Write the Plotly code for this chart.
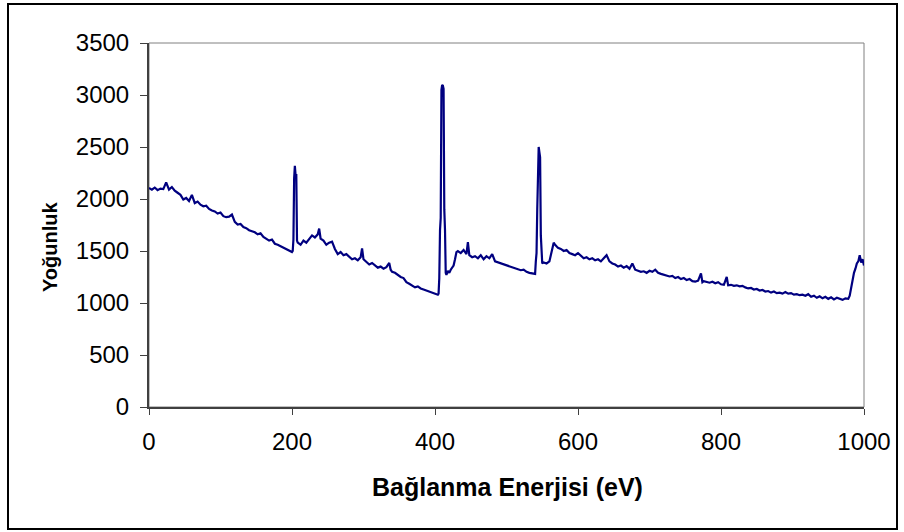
import plotly.graph_objects as go

# Binding energy (eV) and intensity
energy = [
    0, 4, 8, 12, 16, 20, 24, 28, 32, 36, 40, 44, 48, 52, 56, 60, 64, 68, 72, 76,
    80, 84, 88, 92, 96, 100, 104, 108, 112, 116, 120, 124, 128, 132, 136, 140,
    144, 148, 152, 156, 160, 164, 168, 172, 176, 180, 184, 188, 192, 196, 200,
    201, 202, 203, 204, 205, 206, 207, 208,
    212, 216, 220, 224, 228, 232, 236, 238, 240, 244, 248, 252, 256, 260, 264,
    268, 272, 276, 280, 284, 288, 292, 296, 298, 300, 304, 308, 312, 316, 320,
    324, 328, 332, 336, 338, 340, 344, 348, 352, 356, 360, 364, 368, 372, 376,
    380, 384, 388, 392, 396, 400, 404,
    405, 406, 407, 408, 409, 410, 411, 412, 413, 414, 415, 416,
    418, 420, 422, 424, 426, 428, 430, 432, 436, 440, 444, 446, 448, 452, 456,
    460, 464, 468, 472, 476, 480, 484, 488, 492, 496, 500, 504, 508, 512, 516,
    520, 524, 528, 532, 536, 540,
    541, 542, 543, 544, 545, 546, 547, 548, 549, 550,
    552, 556, 560, 562, 564, 566, 568, 572, 576, 580, 584, 588, 592, 596, 600,
    604, 608, 612, 616, 620, 624, 628, 632, 636, 640, 644, 648, 652, 656, 660,
    664, 668, 672, 676, 680, 684, 688, 692, 696, 700, 704, 708, 712, 716, 720,
    724, 728, 732, 736, 740, 744, 748, 752, 756, 760, 764, 768, 772, 774, 776,
    780, 784, 788, 792, 796, 800, 804, 808, 810, 814, 818, 822, 826, 830, 834,
    838, 842, 846, 850, 854, 858, 862, 866, 870, 874, 878, 882, 886, 890, 894,
    898, 902, 906, 910, 914, 918, 922, 926, 930, 934, 938, 942, 946, 950, 954,
    958, 962, 966, 970, 974, 978, 980, 982, 984, 986, 988, 990, 992, 994, 996,
    998, 1000,
]

intensity = [
    2105, 2090, 2110, 2085, 2100, 2095, 2160, 2090, 2115, 2080, 2060, 2040, 1995,
    2010, 1980, 2040, 1960, 1975, 1945, 1930, 1935, 1905, 1890, 1880, 1860, 1870,
    1835, 1825, 1830, 1850, 1780, 1755, 1760, 1730, 1720, 1700, 1690, 1680, 1660,
    1670, 1635, 1620, 1600, 1610, 1570, 1560, 1545, 1530, 1520, 1500, 1490,
    1500, 1610, 2200, 2320, 2230, 2240, 1600, 1580,
    1560, 1600, 1580, 1620, 1650, 1630, 1660, 1715, 1620, 1600, 1560, 1580, 1590,
    1520, 1470, 1490, 1460, 1470, 1440, 1420, 1430, 1410, 1440, 1525, 1420, 1390,
    1370, 1385, 1360, 1340, 1350, 1330, 1345, 1385, 1320, 1300, 1290, 1270, 1250,
    1240, 1200, 1185, 1170, 1150, 1160, 1140, 1130, 1120, 1110, 1095, 1090, 1080,
    1090, 1240, 1700, 1820, 3050, 3096, 3090, 3060, 1900, 1700, 1290, 1270,
    1310, 1290, 1320, 1340, 1360, 1420, 1490, 1500, 1480, 1510, 1470, 1585, 1460,
    1440, 1450, 1430, 1460, 1420, 1450, 1430, 1470, 1400, 1390, 1380, 1370, 1360,
    1350, 1340, 1330, 1325, 1315, 1320, 1300, 1290, 1285, 1280,
    1400, 1480, 1900, 2300, 2500, 2450, 2400, 1650, 1420, 1380,
    1390, 1380, 1400, 1470, 1540, 1580, 1560, 1530, 1520, 1500, 1510, 1480, 1470,
    1460, 1480, 1450, 1430, 1440, 1420, 1430, 1410, 1420, 1400, 1430, 1460, 1400,
    1380, 1370, 1350, 1360, 1340, 1355, 1330, 1380, 1320, 1310, 1300, 1305, 1290,
    1310, 1300, 1320, 1290, 1280, 1270, 1265, 1255, 1260, 1240, 1250, 1230, 1240,
    1220, 1230, 1210, 1205, 1215, 1285, 1200, 1210, 1200, 1195, 1205, 1190, 1200,
    1180, 1175, 1250, 1170, 1175, 1165, 1170, 1160, 1165, 1150, 1140, 1145, 1130,
    1135, 1120, 1125, 1110, 1115, 1100, 1110, 1095, 1100, 1090, 1105, 1090, 1095,
    1080, 1085, 1075, 1080, 1070, 1085, 1060, 1070, 1050, 1065, 1045, 1060, 1040,
    1055, 1035, 1050, 1040, 1030, 1045, 1040, 1070, 1150, 1250, 1290, 1330, 1380,
    1400, 1460, 1390, 1420, 1360,
]

x_ticks = [0, 200, 400, 600, 800, 1000]
y_ticks = [0, 500, 1000, 1500, 2000, 2500, 3000, 3500]

FONT = "Liberation Sans, Arial, sans-serif"

fig = go.Figure()
fig.add_trace(go.Scatter(
    x=energy, y=intensity, mode="lines",
    line=dict(color="#000080", width=2.2),
    hoverinfo="skip", showlegend=False,
))

fig.update_layout(
    width=904, height=532,
    margin=dict(l=149, r=40, t=43, b=125),
    paper_bgcolor="white", plot_bgcolor="white",
    font=dict(family=FONT, size=20, color="black"),
    xaxis=dict(
        range=[0, 1000], tickvals=x_ticks, ticktext=[str(v) for v in x_ticks],
        showgrid=False, zeroline=False,
        showline=True, linecolor="#404040", linewidth=2,
        ticks="outside", ticklen=6, tickwidth=1, tickcolor="#404040",
        tickfont=dict(family=FONT, size=24, color="black"),
        ticklabelstandoff=6,
    ),
    yaxis=dict(
        range=[0, 3500], tickvals=y_ticks, ticktext=[str(v) for v in y_ticks],
        showgrid=False, zeroline=False,
        showline=True, linecolor="#404040", linewidth=2,
        ticks="outside", ticklen=7, tickwidth=1, tickcolor="#404040",
        tickfont=dict(family=FONT, size=24, color="black"),
        ticklabelstandoff=6,
    ),
    shapes=[
        # plot-area frame (top/right grey)
        dict(type="rect", xref="paper", yref="paper", x0=0, x1=1, y0=0, y1=1,
             line=dict(color="#808080", width=1), layer="below"),
        # outer chart border
        dict(type="rect", xref="paper", yref="paper",
             x0=(8 - 149) / 715, x1=(897 - 149) / 715,
             y0=(407 - 529) / 364, y1=(407 - 4) / 364,
             line=dict(color="black", width=2)),
    ],
    annotations=[
        dict(text="<b>Bağlanma Enerjisi (eV)</b>", xref="paper", yref="paper",
             x=(507 - 149) / 715, y=(407 - 487) / 364,
             xanchor="center", yanchor="middle", showarrow=False,
             font=dict(family=FONT, size=25, color="black")),
        dict(text="<b>Yoğunluk</b>", xref="paper", yref="paper",
             x=(50 - 149) / 715, y=(407 - 247) / 364, textangle=-90,
             xanchor="center", yanchor="middle", showarrow=False,
             font=dict(family=FONT, size=20, color="black")),
    ],
)

fig.write_html("out.html")
